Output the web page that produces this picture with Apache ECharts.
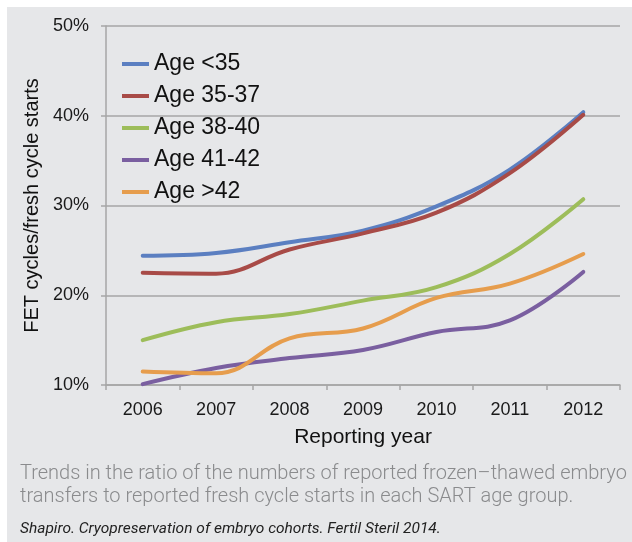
<!DOCTYPE html>
<html>
<head>
<meta charset="utf-8">
<script src="https://cdn.jsdelivr.net/npm/echarts@6/dist/echarts.min.js"></script>
<style>
  html, body { margin: 0; padding: 0; background: #fff; }
  #chart { width: 632px; height: 542px; }
</style>
</head>
<body>
<div id="chart"></div>
<script>
// 年份
var years = ['2006', '2007', '2008', '2009', '2010', '2011', '2012'];
// 各年龄组 FET/新鲜周期 比例 (%)
var ageUnder35 = [24.4, 24.7, 25.9, 27.2, 29.9, 34.0, 40.4];
var age35to37 = [22.5, 22.4, 25.1, 26.9, 29.2, 33.6, 40.1];
var age38to40 = [15.0, 17.0, 17.9, 19.4, 20.9, 24.6, 30.7];
var age41to42 = [10.1, 11.9, 13.0, 13.9, 15.9, 17.2, 22.6];
var ageOver42 = [11.5, 11.3, 15.2, 16.3, 19.7, 21.3, 24.6];
var seriesNames = ['Age <35', 'Age 35-37', 'Age 38-40', 'Age 41-42', 'Age >42'];
var colors = ['#5b7fc1', '#a84b47', '#9dbd5a', '#7a5fa0', '#e69d4d'];

var FONT = '"Liberation Sans", Arial, sans-serif';

var chart = echarts.init(document.getElementById('chart'));

function makeLine(name, data, color) {
  return {
    name: name,
    type: 'line',
    data: data,
    smooth: 0.4,
    symbol: 'none',
    lineStyle: { width: 4, color: color, cap: 'round' },
    itemStyle: { color: color }
  };
}

var option = {
  backgroundColor: '#fff',
  animation: false,
  textStyle: { fontFamily: FONT },
  graphic: [
    // 灰色背景
    {
      type: 'rect', z: -10,
      shape: { x: 7, y: 7, width: 625, height: 535 },
      style: { fill: '#e6e7e9' }
    },
    {
      type: 'text', left: 20, top: 462,
      style: {
        text: 'Trends in the ratio of the numbers of reported frozen\u2013thawed embryo\ntransfers to reported fresh cycle starts in each SART age group.',
        font: '300 20px Roboto, sans-serif',
        fill: '#8a8b8d',
        lineHeight: 23
      }
    },
    {
      type: 'text', left: 20, top: 521,
      style: {
        text: 'Shapiro. Cryopreservation of embryo cohorts. Fertil Steril 2014.',
        font: 'italic 15.5px Roboto, sans-serif',
        fill: '#222'
      }
    }
  ],
  legend: {
    orient: 'vertical',
    left: 117,
    top: 47,
    icon: 'rect',
    itemWidth: 27,
    itemHeight: 4,
    itemGap: 8,
    data: seriesNames,
    textStyle: { fontSize: 23, color: '#111', lineHeight: 24, fontFamily: FONT }
  },
  grid: { left: 106, right: 12, top: 26, bottom: 157 },
  xAxis: {
    type: 'category',
    data: years,
    boundaryGap: true,
    name: 'Reporting year',
    nameLocation: 'middle',
    nameGap: 42,
    nameTextStyle: { fontSize: 21, color: '#111', fontFamily: FONT },
    axisLine: { lineStyle: { color: '#a6a6a6', width: 1.5 } },
    axisTick: { show: true, length: 5, lineStyle: { color: '#a6a6a6', width: 1.5 } },
    axisLabel: { fontSize: 18, color: '#1a1a1a', margin: 16, fontFamily: FONT }
  },
  yAxis: {
    type: 'value',
    min: 10,
    max: 50,
    interval: 10,
    name: 'FET cycles/fresh cycle starts',
    nameLocation: 'middle',
    nameGap: 60,
    nameTextStyle: { fontSize: 20, color: '#111', fontFamily: FONT },
    axisLine: { show: true, lineStyle: { color: '#a6a6a6', width: 1.5 } },
    axisTick: { show: true, length: 5, lineStyle: { color: '#a6a6a6', width: 1.5 } },
    splitLine: { lineStyle: { color: '#a6a6a6', width: 1.5 } },
    axisLabel: { fontSize: 18, color: '#1a1a1a', margin: 17, formatter: '{value}%', fontFamily: FONT }
  },
  series: [
    makeLine(seriesNames[0], ageUnder35, colors[0]),
    makeLine(seriesNames[1], age35to37, colors[1]),
    makeLine(seriesNames[2], age38to40, colors[2]),
    makeLine(seriesNames[3], age41to42, colors[3]),
    makeLine(seriesNames[4], ageOver42, colors[4])
  ]
};

chart.setOption(option);
</script>
</body>
</html>
